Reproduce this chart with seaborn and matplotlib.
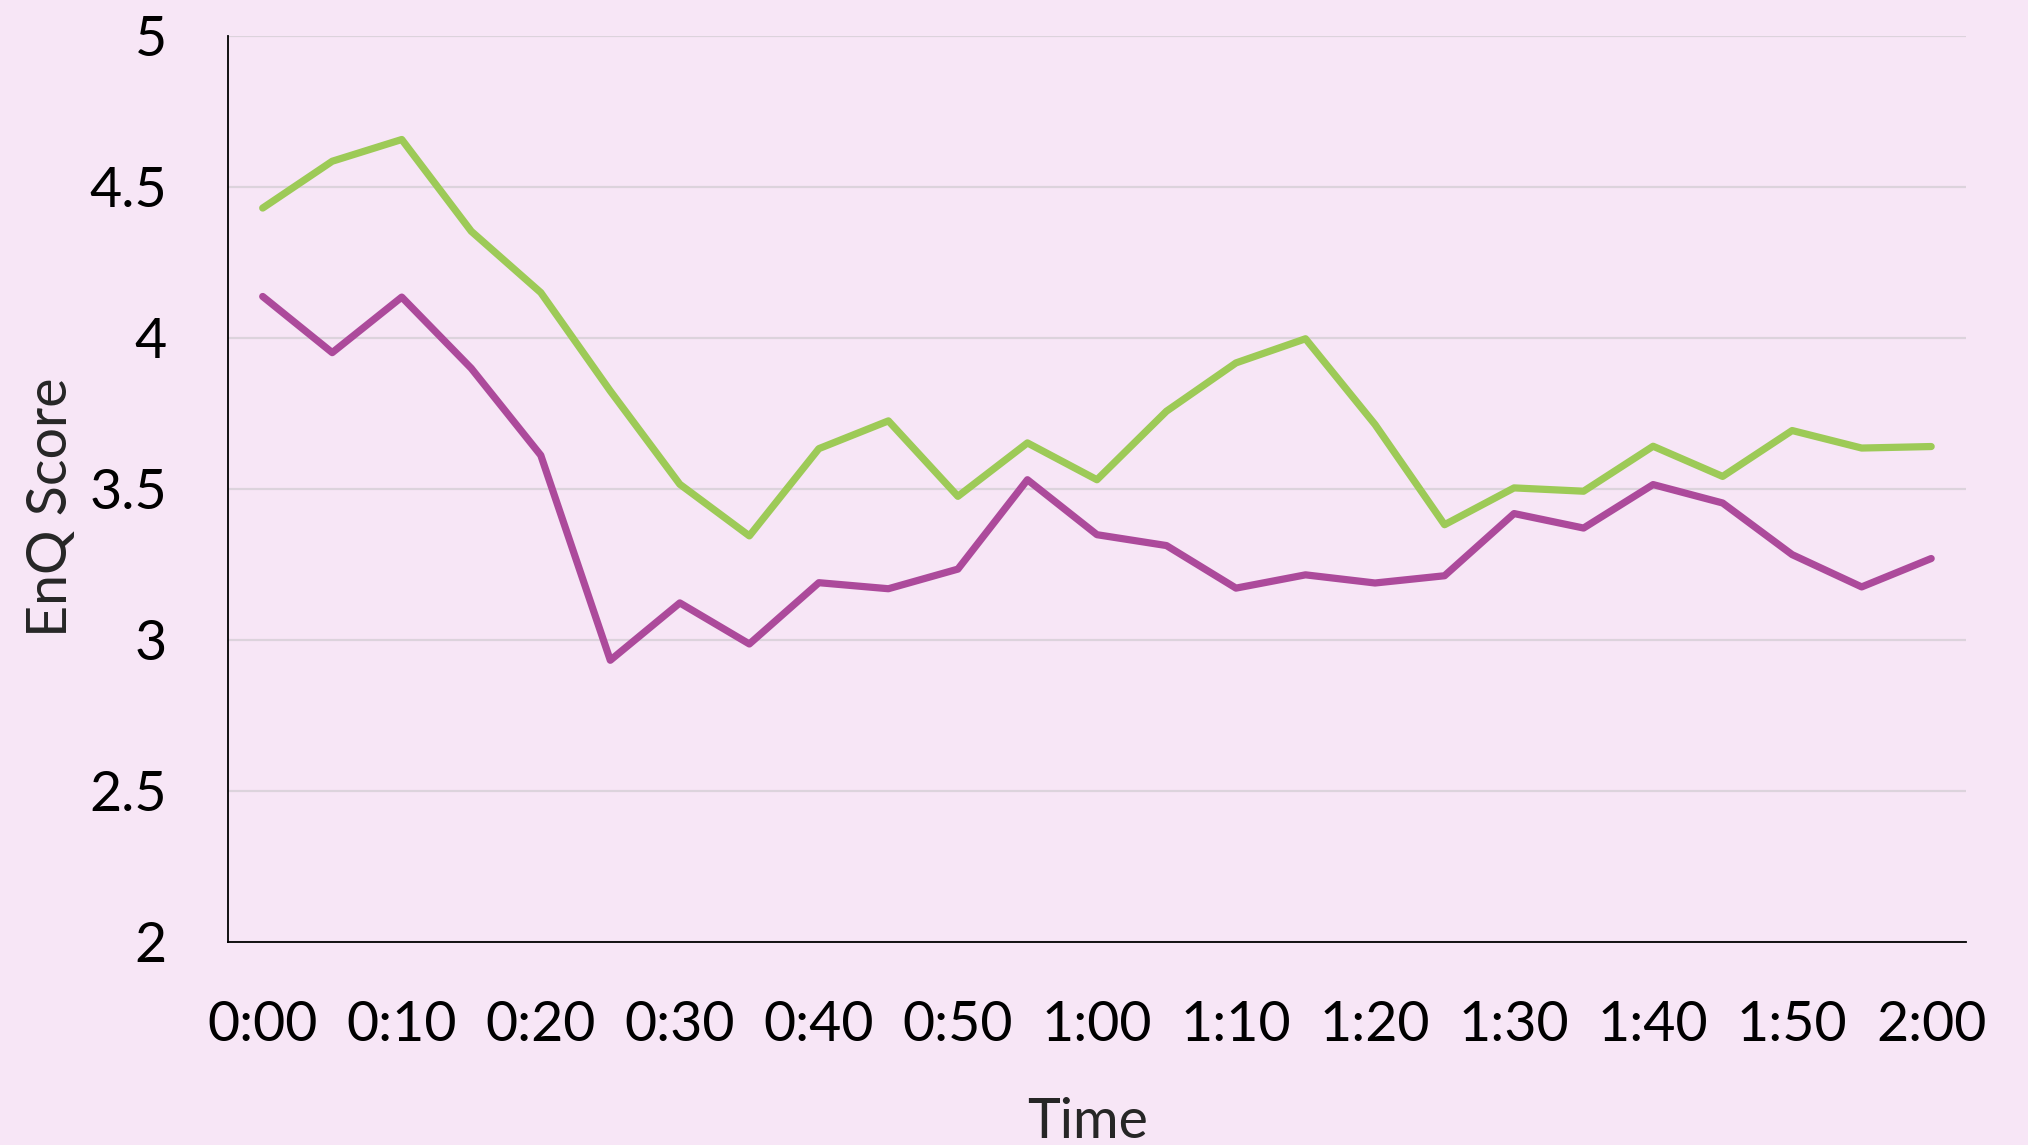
import pandas as pd
import seaborn as sns
import matplotlib.pyplot as plt

# EnQ scores every 5 minutes
times = ['0:00', '0:05', '0:10', '0:15', '0:20', '0:25', '0:30', '0:35', '0:40',
         '0:45', '0:50', '0:55', '1:00', '1:05', '1:10', '1:15', '1:20', '1:25',
         '1:30', '1:35', '1:40', '1:45', '1:50', '1:55', '2:00']
green_scores = [4.43, 4.585, 4.657, 4.353, 4.15, 3.824, 3.515, 3.344, 3.633,
                3.725, 3.475, 3.652, 3.53, 3.757, 3.917, 3.997, 3.713, 3.381,
                3.503, 3.492, 3.641, 3.541, 3.693, 3.635, 3.64]
purple_scores = [4.137, 3.951, 4.135, 3.899, 3.611, 2.932, 3.122, 2.986, 3.189,
                 3.169, 3.234, 3.53, 3.348, 3.312, 3.171, 3.215, 3.188, 3.212,
                 3.418, 3.37, 3.514, 3.453, 3.282, 3.175, 3.269]
tick_labels = times[::2]

bg = '#F7E6F6'
palette = {'green': '#9DCA57', 'purple': '#AC4A9B'}

df = pd.DataFrame({
    'idx': list(range(len(times))) * 2,
    'score': green_scores + purple_scores,
    'series': ['green'] * len(times) + ['purple'] * len(times),
})

sns.set_style('white')
plt.rcParams['font.family'] = ['Lato', 'DejaVu Sans']

fig = plt.figure(figsize=(20.28, 11.45), dpi=100, facecolor=bg)
ax = fig.add_axes([0.1124, 0.1776, 0.857, 0.791])
ax.set_facecolor(bg)

sns.lineplot(data=df, x='idx', y='score', hue='series', palette=palette,
             linewidth=5.2, legend=False, ax=ax)

ax.set_xlim(-0.5, len(times) - 0.5)
ax.set_ylim(2, 5)
ax.set_yticks([2, 2.5, 3, 3.5, 4, 4.5, 5])
ax.set_yticklabels(['2', '2.5', '3', '3.5', '4', '4.5', '5'])
ax.set_xticks(range(0, len(times), 2))
ax.set_xticklabels(tick_labels)
ax.tick_params(axis='both', length=0, labelsize=40, colors='black')
ax.tick_params(axis='y', pad=44)
ax.tick_params(axis='x', pad=42)

ax.grid(axis='y', color='#DCD3DC', linewidth=1.6)
ax.set_axisbelow(True)
for side in ['top', 'right']:
    ax.spines[side].set_visible(False)
for side in ['left', 'bottom']:
    ax.spines[side].set_color('black')
    ax.spines[side].set_linewidth(1.3)

ax.set_xlabel('')
ax.set_ylabel('')
fig.text(0.0256, 0.5567, 'EnQ Score', rotation=90, ha='center', va='center', fontsize=40)
fig.text(0.5365, 0.006, 'Time', ha='center', va='baseline', fontsize=40)

fig.savefig('out.png', dpi=100, facecolor=bg)
